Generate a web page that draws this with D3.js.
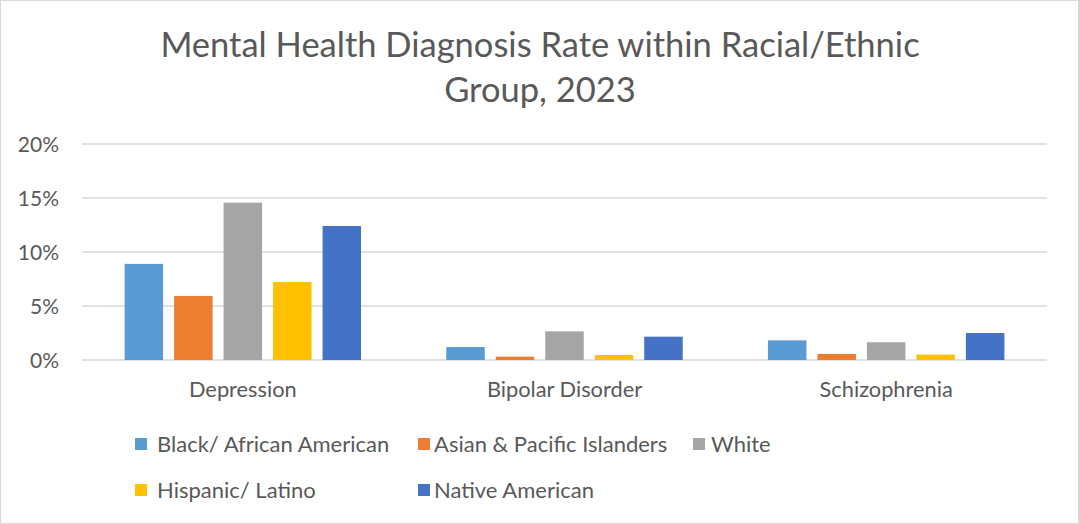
<!DOCTYPE html>
<html>
<head>
<meta charset="utf-8">
<script src="https://cdn.jsdelivr.net/npm/d3@7"></script>
<style>
  html, body { margin: 0; padding: 0; background: #fff; }
  svg { display: block; }
  text { font-family: Lato, "Open Sans", sans-serif; fill: #595959; }
</style>
</head>
<body>
<svg id="chart" width="1079" height="524"></svg>
<script>
// Diagnosis rate (%) by condition and racial/ethnic group, 2023
const categories = ["Depression", "Bipolar Disorder", "Schizophrenia"];
const seriesNames = ["Black/ African American", "Asian & Pacific Islanders", "White", "Hispanic/ Latino", "Native American"];
const blackAfricanAmerican = [8.9, 1.2, 1.82];
const asianPacificIslanders = [5.93, 0.31, 0.56];
const white = [14.57, 2.65, 1.64];
const hispanicLatino = [7.22, 0.46, 0.5];
const nativeAmerican = [12.41, 2.16, 2.5];
const yTicks = [0, 5, 10, 15, 20];
const colors = ["#5B9BD5", "#ED7D31", "#A5A5A5", "#FFC000", "#4472C4"];

const seriesValues = [blackAfricanAmerican, asianPacificIslanders, white, hispanicLatino, nativeAmerican];

const svg = d3.select("#chart");
const W = 1079, H = 524;

// outer chart border
svg.append("rect")
  .attr("x", 0.5).attr("y", 0.5)
  .attr("width", W - 1).attr("height", H - 1)
  .attr("fill", "#fff").attr("stroke", "#d9d9d9").attr("stroke-width", 1);

const plot = { left: 82, right: 1047, top: 144, bottom: 360 };

const y = d3.scaleLinear().domain([0, 20]).range([plot.bottom, plot.top]);
const x0 = d3.scaleBand().domain(categories).range([plot.left, plot.right]).padding(0);
const x1 = d3.scaleBand().domain(seriesNames)
  .range([0, x0.bandwidth()])
  .paddingInner(0.222).paddingOuter(0.861);

// title
const title = svg.append("text")
  .attr("text-anchor", "middle")
  .attr("font-size", 34.5);
title.append("tspan").attr("x", 540).attr("y", 57).text("Mental Health Diagnosis Rate within Racial/Ethnic");
title.append("tspan").attr("x", 540).attr("y", 102).text("Group, 2023");

// gridlines
svg.append("g")
  .selectAll("line")
  .data(yTicks)
  .join("line")
  .attr("x1", plot.left).attr("x2", plot.right)
  .attr("y1", d => y(d)).attr("y2", d => y(d))
  .attr("stroke", "#d9d9d9").attr("stroke-width", 1.5);

// y axis labels
const yAxis = d3.axisLeft(y).tickValues(yTicks).tickFormat(d => d + "%").tickSize(0).tickPadding(0);
const yg = svg.append("g").attr("transform", "translate(59,0)").call(yAxis);
yg.select(".domain").remove();
yg.selectAll("text").attr("font-size", 21).attr("fill", "#595959")
  .attr("font-family", "Lato, 'Open Sans', sans-serif").attr("dy", "0.35em");

// bars
const groups = svg.append("g")
  .selectAll("g")
  .data(categories)
  .join("g")
  .attr("transform", d => `translate(${x0(d)},0)`);

groups.selectAll("rect")
  .data((d, i) => seriesNames.map((s, j) => ({ s, j, v: seriesValues[j][i] })))
  .join("rect")
  .attr("x", d => x1(d.s))
  .attr("width", x1.bandwidth())
  .attr("y", d => y(d.v))
  .attr("height", d => y(0) - y(d.v))
  .attr("fill", d => colors[d.j]);

// category labels
const xAxis = d3.axisBottom(x0).tickSize(0).tickPadding(0);
const xg = svg.append("g").attr("transform", `translate(0,${plot.bottom})`).call(xAxis);
xg.select(".domain").remove();
xg.selectAll("text").attr("font-size", 21.8).attr("fill", "#595959")
  .attr("font-family", "Lato, 'Open Sans', sans-serif").attr("dy", "37px");

// legend
const legendPos = [
  { x: 135, y: 444, tx: 22 }, { x: 418, y: 444, tx: 16 }, { x: 693, y: 444, tx: 18 },
  { x: 135, y: 490, tx: 22 }, { x: 418, y: 490, tx: 16 }
];
const legend = svg.append("g")
  .selectAll("g")
  .data(seriesNames)
  .join("g")
  .attr("transform", (d, i) => `translate(${legendPos[i].x},${legendPos[i].y})`);
legend.append("rect")
  .attr("x", 0).attr("y", -6).attr("width", 12).attr("height", 12)
  .attr("fill", (d, i) => colors[i]);
legend.append("text")
  .attr("x", (d, i) => legendPos[i].tx).attr("y", 0).attr("dy", "0.35em")
  .attr("font-size", 22)
  .text(d => d);
</script>
</body>
</html>
